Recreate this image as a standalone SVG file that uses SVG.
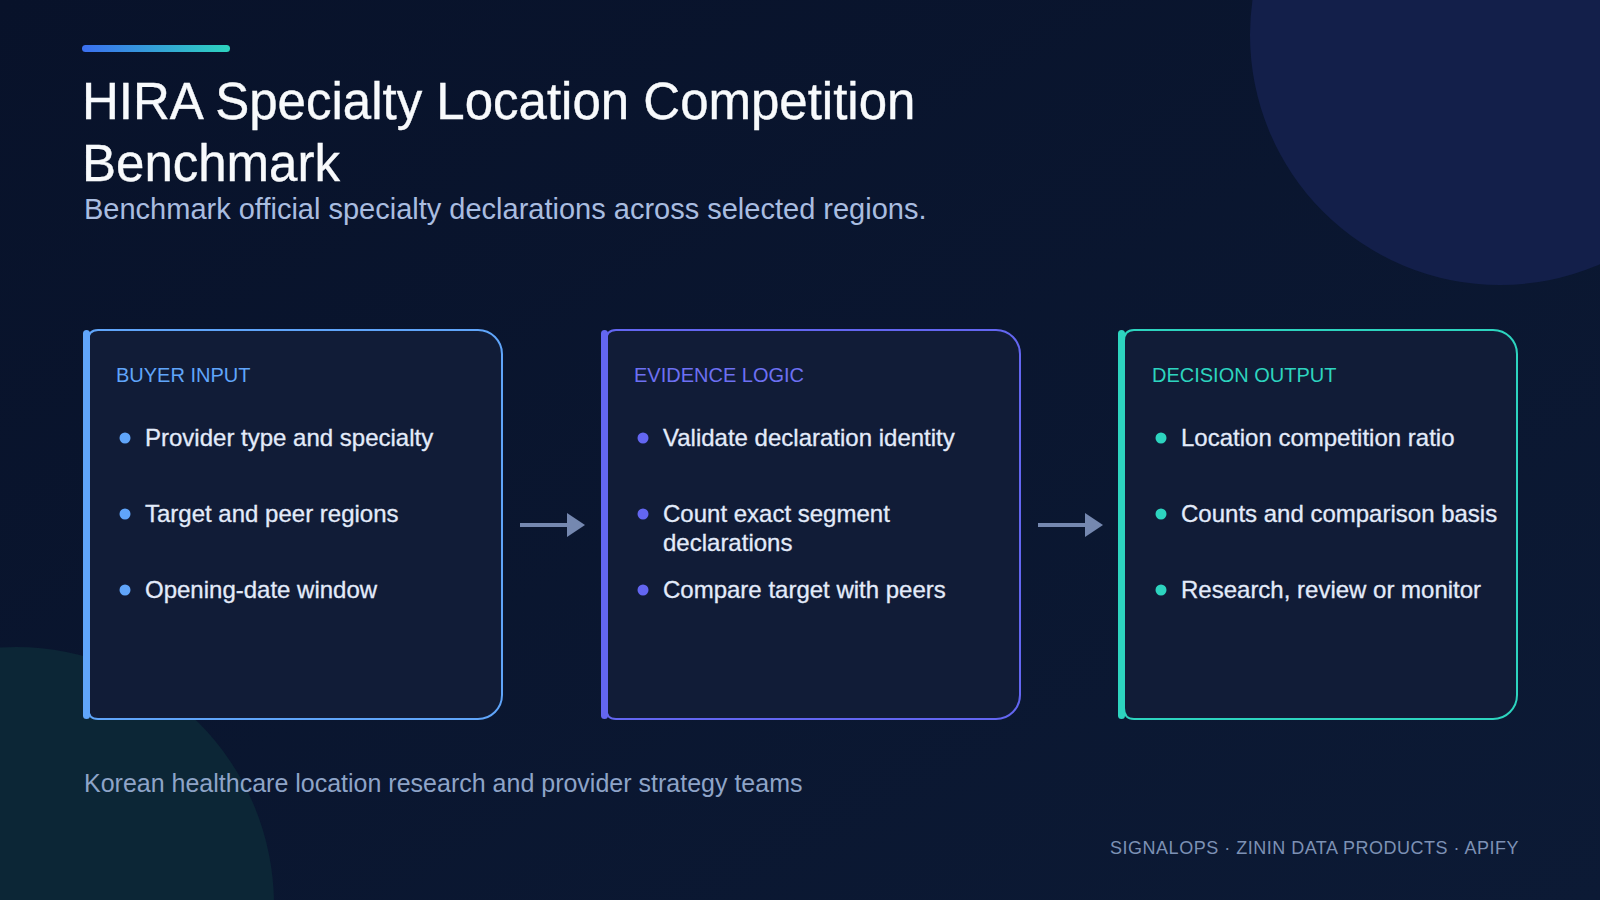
<svg xmlns="http://www.w3.org/2000/svg" width="1600" height="900" viewBox="0 0 1600 900">
  <defs>
    <linearGradient id="bg" x1="0" y1="0" x2="1" y2="1">
      <stop offset="0" stop-color="#08122a"/>
      <stop offset="1" stop-color="#0c1a35"/>
    </linearGradient>
    <linearGradient id="accent" x1="0" y1="0" x2="1" y2="0">
      <stop offset="0" stop-color="#3b6ff0"/>
      <stop offset="1" stop-color="#2dd4bf"/>
    </linearGradient>
    <marker id="arrowhead" viewBox="0 0 18 24" refX="0" refY="12" markerWidth="18" markerHeight="24" markerUnits="userSpaceOnUse" orient="auto">
      <path d="M0 0 L18 12 L0 24 Z" fill="#7588b0"/>
    </marker>
  </defs>
  <style>
    .title { font-family: "Liberation Sans", Arial, sans-serif; font-size: 51px; fill: #f8fafc; stroke: #f8fafc; stroke-width: 0.4px; }
    .subtitle { font-family: "Liberation Sans", Arial, sans-serif; font-size: 29px; fill: #a9bde0; }
    .card { fill: #111c37; stroke-width: 2; }
    .head { font-family: "Liberation Sans", Arial, sans-serif; font-size: 20px; }
    .item { font-family: "Liberation Sans", Arial, sans-serif; font-size: 24px; fill: #e3ebfa; stroke: #e3ebfa; stroke-width: 0.3px; }
    .footer { font-family: "Liberation Sans", Arial, sans-serif; font-size: 25px; fill: #8ea4c8; }
    .brand { font-family: "Liberation Sans", Arial, sans-serif; font-size: 18px; letter-spacing: 0.5px; fill: #7d91b4; }
    .conn { stroke: #7588b0; stroke-width: 4; fill: none; }
  </style>

  <rect x="0" y="0" width="1600" height="900" fill="url(#bg)"/>
  <circle cx="1500" cy="35" r="250" fill="#131f4a"/>
  <circle cx="16" cy="905" r="258" fill="#0c2636"/>

  <rect x="82" y="45" width="148" height="7" rx="3.5" fill="url(#accent)"/>
  <text class="title" x="82" y="119">HIRA Specialty Location Competition</text>
  <text class="title" x="82" y="181">Benchmark</text>
  <text class="subtitle" x="84" y="219">Benchmark official specialty declarations across selected regions.</text>

  <g id="card-buyer-input">
    <path class="card" stroke="#60a5fa" d="M98 330 H478 A24 24 0 0 1 502 354 V695 A24 24 0 0 1 478 719 H98 Q88 719 88 708 V341 Q88 330 98 330 Z"/>
    <rect x="83" y="330" width="7" height="389" rx="3.5" fill="#60a5fa"/>
    <text class="head" x="116" y="382" fill="#60a5fa">BUYER INPUT</text>
    <circle cx="125" cy="438" r="5.5" fill="#60a5fa"/>
    <text class="item" x="145" y="446">Provider type and specialty</text>
    <circle cx="125" cy="514" r="5.5" fill="#60a5fa"/>
    <text class="item" x="145" y="522">Target and peer regions</text>
    <circle cx="125" cy="590" r="5.5" fill="#60a5fa"/>
    <text class="item" x="145" y="598">Opening-date window</text>
  </g>

  <g id="card-evidence-logic">
    <path class="card" stroke="#6366f1" d="M616 330 H996 A24 24 0 0 1 1020 354 V695 A24 24 0 0 1 996 719 H616 Q606 719 606 708 V341 Q606 330 616 330 Z"/>
    <rect x="601" y="330" width="7" height="389" rx="3.5" fill="#6366f1"/>
    <text class="head" x="634" y="382" fill="#6d70f2">EVIDENCE LOGIC</text>
    <circle cx="643" cy="438" r="5.5" fill="#6366f1"/>
    <text class="item" x="663" y="446">Validate declaration identity</text>
    <circle cx="643" cy="514" r="5.5" fill="#6366f1"/>
    <text class="item" x="663" y="522">Count exact segment</text>
    <text class="item" x="663" y="551">declarations</text>
    <circle cx="643" cy="590" r="5.5" fill="#6366f1"/>
    <text class="item" x="663" y="598">Compare target with peers</text>
  </g>

  <g id="card-decision-output">
    <path class="card" stroke="#2dd4bf" d="M1134 330 H1493 A24 24 0 0 1 1517 354 V695 A24 24 0 0 1 1493 719 H1134 Q1124 719 1124 708 V341 Q1124 330 1134 330 Z"/>
    <rect x="1118" y="330" width="7" height="389" rx="3.5" fill="#2dd4bf"/>
    <text class="head" x="1152" y="382" fill="#2dd4bf">DECISION OUTPUT</text>
    <circle cx="1161" cy="438" r="5.5" fill="#2dd4bf"/>
    <text class="item" x="1181" y="446">Location competition ratio</text>
    <circle cx="1161" cy="514" r="5.5" fill="#2dd4bf"/>
    <text class="item" x="1181" y="522">Counts and comparison basis</text>
    <circle cx="1161" cy="590" r="5.5" fill="#2dd4bf"/>
    <text class="item" x="1181" y="598">Research, review or monitor</text>
  </g>

  <g id="connectors">
    <line class="conn" x1="520" y1="525" x2="567" y2="525" marker-end="url(#arrowhead)"/>
    <line class="conn" x1="1038" y1="525" x2="1085" y2="525" marker-end="url(#arrowhead)"/>
  </g>

  <text class="footer" x="84" y="792">Korean healthcare location research and provider strategy teams</text>
  <text class="brand" x="1519" y="854" text-anchor="end">SIGNALOPS · ZININ DATA PRODUCTS · APIFY</text>
</svg>
